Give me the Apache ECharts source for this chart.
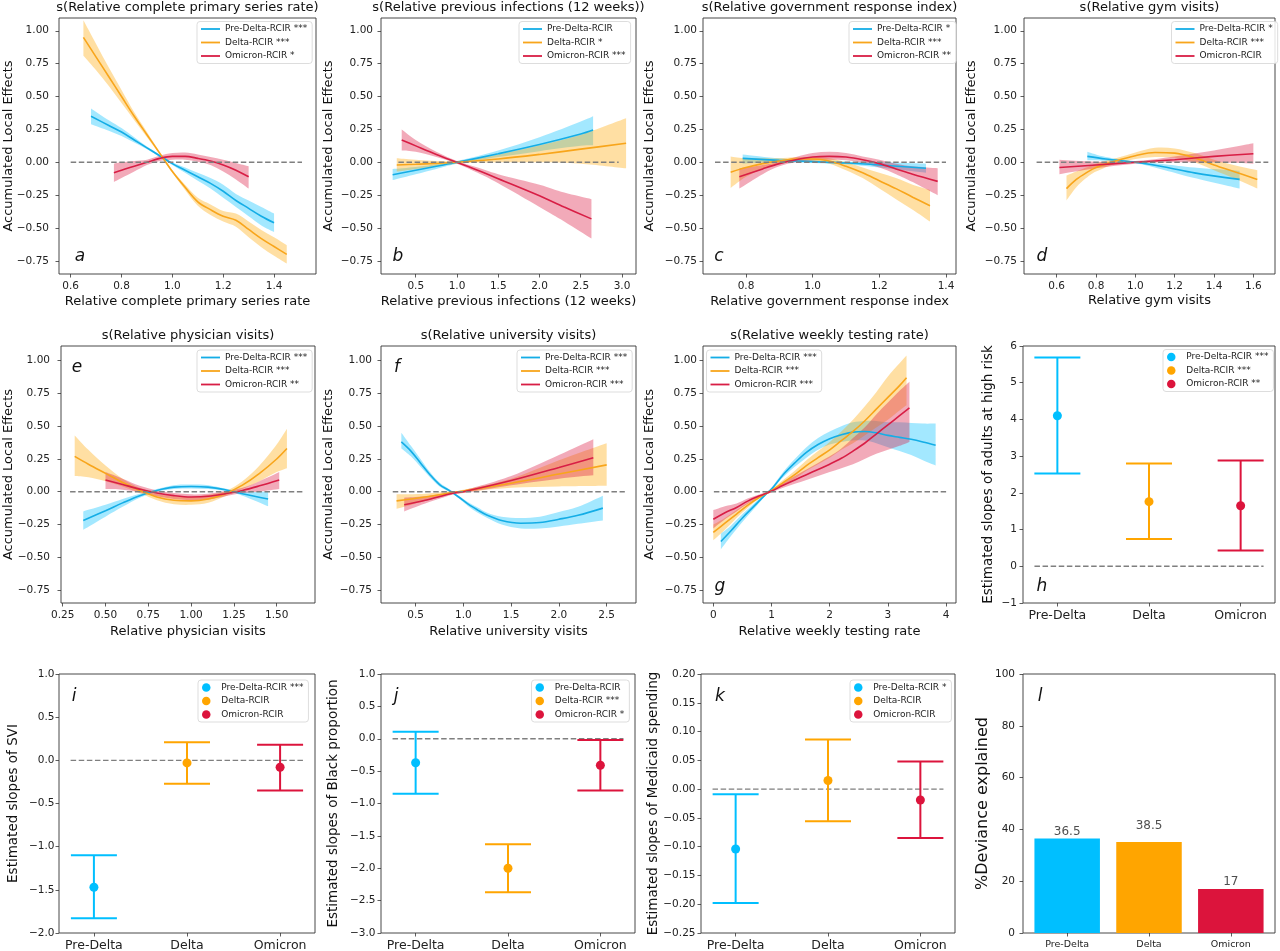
<!DOCTYPE html>
<html><head><meta charset="utf-8">
<script src="https://cdn.jsdelivr.net/npm/echarts@6/dist/echarts.min.js"></script>
<style>html,body{margin:0;padding:0;background:#fff}#c{width:1280px;height:951px}</style>
</head><body><div id="c"></div>
<script>
// ---------------- DATA ----------------
const CATS = ['Pre-Delta', 'Delta', 'Omicron'];
const ALE_Y_TICKS = [-0.75, -0.5, -0.25, 0, 0.25, 0.5, 0.75, 1.0];
const A_X_TICKS = [0.6, 0.8, 1.0, 1.2, 1.4];
const B_X_TICKS = [0.5, 1.0, 1.5, 2.0, 2.5, 3.0];
const C_X_TICKS = [0.8, 1.0, 1.2, 1.4];
const D_X_TICKS = [0.6, 0.8, 1.0, 1.2, 1.4, 1.6];
const E_X_TICKS = [0.25, 0.5, 0.75, 1.0, 1.25, 1.5];
const F_X_TICKS = [0.5, 1.0, 1.5, 2.0, 2.5];
const G_X_TICKS = [0, 1, 2, 3, 4];
const H_Y_TICKS = [-1, 0, 1, 2, 3, 4, 5, 6];
const I_Y_TICKS = [-2.0, -1.5, -1.0, -0.5, 0, 0.5, 1.0];
const J_Y_TICKS = [-3.0, -2.5, -2.0, -1.5, -1.0, -0.5, 0, 0.5, 1.0];
const K_Y_TICKS = [-0.25, -0.2, -0.15, -0.1, -0.05, 0, 0.05, 0.1, 0.15, 0.2];
const L_Y_TICKS = [0, 20, 40, 60, 80, 100];
const CAT_TICKS = [0, 1, 2];

// panel a
const a_pre_x = [0.68,0.75,0.8,0.85,0.9,0.95,1.0,1.05,1.1,1.15,1.2,1.25,1.3,1.35,1.4];
const a_pre_y = [0.35,0.28,0.23,0.17,0.11,0.05,-0.01,-0.06,-0.11,-0.16,-0.22,-0.29,-0.35,-0.41,-0.46];
const a_pre_lo = [0.29,0.24,0.20,0.15,0.10,0.04,-0.02,-0.08,-0.14,-0.20,-0.27,-0.34,-0.41,-0.48,-0.53];
const a_pre_hi = [0.41,0.32,0.26,0.19,0.12,0.06,0.0,-0.04,-0.08,-0.12,-0.17,-0.24,-0.29,-0.34,-0.39];
const a_del_x = [0.65,0.7,0.75,0.8,0.85,0.9,0.95,1.0,1.05,1.1,1.15,1.2,1.25,1.3,1.35,1.4,1.45];
const a_del_y = [0.95,0.80,0.65,0.50,0.35,0.21,0.07,-0.07,-0.19,-0.30,-0.36,-0.41,-0.44,-0.51,-0.58,-0.64,-0.70];
const a_del_lo = [0.81,0.70,0.58,0.45,0.32,0.19,0.06,-0.08,-0.21,-0.33,-0.40,-0.45,-0.49,-0.57,-0.645,-0.71,-0.77];
const a_del_hi = [1.08,0.90,0.72,0.55,0.38,0.23,0.08,-0.06,-0.17,-0.27,-0.32,-0.37,-0.39,-0.45,-0.515,-0.57,-0.63];
const a_omi_x = [0.77,0.8,0.85,0.9,0.95,1.0,1.05,1.1,1.15,1.2,1.25,1.3];
const a_omi_y = [-0.08,-0.06,-0.03,0.0,0.03,0.045,0.045,0.03,0.01,-0.02,-0.06,-0.11];
const a_omi_lo = [-0.15,-0.12,-0.07,-0.02,0.01,0.02,0.02,0.005,-0.02,-0.07,-0.13,-0.20];
const a_omi_hi = [-0.01,0.0,0.01,0.02,0.05,0.07,0.075,0.06,0.04,0.02,-0.005,-0.03];
const a_zero = [0.6, 1.51];

// panel b
const b_pre_x = [0.22,0.5,0.75,1.0,1.5,2.0,2.5,2.65];
const b_pre_y = [-0.095,-0.06,-0.03,0.0,0.065,0.135,0.215,0.245];
const b_pre_lo = [-0.135,-0.09,-0.05,-0.01,0.04,0.085,0.125,0.13];
const b_pre_hi = [-0.05,-0.035,-0.015,0.01,0.09,0.19,0.31,0.35];
const b_del_x = [0.27,0.5,1.0,1.5,2.0,2.5,3.05];
const b_del_y = [-0.02,-0.015,0.0,0.025,0.06,0.10,0.145];
const b_del_lo = [-0.07,-0.05,-0.01,0.0,0.0,-0.01,-0.045];
const b_del_hi = [0.03,0.02,0.01,0.06,0.13,0.21,0.335];
const b_omi_x = [0.33,0.5,0.75,1.0,1.25,1.5,2.0,2.3,2.63];
const b_omi_y = [0.17,0.125,0.06,0.0,-0.06,-0.125,-0.255,-0.34,-0.43];
const b_omi_lo = [0.09,0.08,0.04,-0.01,-0.08,-0.16,-0.34,-0.45,-0.58];
const b_omi_hi = [0.25,0.17,0.08,0.01,-0.04,-0.09,-0.17,-0.23,-0.28];
const b_zero = [0.29, 2.96];

// panel c
const c_pre_x = [0.79,0.9,1.0,1.1,1.2,1.34];
const c_pre_y = [0.03,0.015,0.005,-0.005,-0.02,-0.045];
const c_pre_lo = [-0.01,0.0,-0.005,-0.015,-0.04,-0.08];
const c_pre_hi = [0.06,0.03,0.015,0.005,0.0,-0.01];
const c_del_x = [0.754,0.8,0.85,0.9,0.95,1.0,1.05,1.1,1.15,1.2,1.25,1.3,1.352];
const c_del_y = [-0.075,-0.04,-0.01,0.01,0.025,0.025,0.01,-0.03,-0.08,-0.14,-0.2,-0.265,-0.33];
const c_del_lo = [-0.195,-0.11,-0.05,-0.01,0.01,0.01,-0.01,-0.06,-0.12,-0.2,-0.28,-0.36,-0.45];
const c_del_hi = [0.045,0.03,0.03,0.03,0.04,0.04,0.03,0.0,-0.04,-0.08,-0.12,-0.17,-0.21];
const c_omi_x = [0.78,0.85,0.9,0.95,1.0,1.05,1.1,1.15,1.2,1.25,1.3,1.375];
const c_omi_y = [-0.11,-0.05,-0.01,0.02,0.04,0.045,0.04,0.02,-0.01,-0.05,-0.09,-0.145];
const c_omi_lo = [-0.2,-0.09,-0.03,0.0,0.015,0.02,0.015,-0.005,-0.04,-0.09,-0.15,-0.25];
const c_omi_hi = [-0.045,-0.02,0.005,0.04,0.07,0.08,0.07,0.045,0.02,-0.01,-0.03,-0.045];
const c_zero = [0.707, 1.40];

// panel d
const d_pre_x = [0.756,0.85,1.0,1.15,1.3,1.53];
const d_pre_y = [0.045,0.025,0.0,-0.035,-0.08,-0.13];
const d_pre_lo = [0.015,0.01,-0.008,-0.06,-0.12,-0.2];
const d_pre_hi = [0.08,0.04,0.008,-0.015,-0.04,-0.065];
const d_del_x = [0.65,0.7,0.75,0.8,0.9,1.0,1.1,1.2,1.3,1.4,1.5,1.62];
const d_del_y = [-0.2,-0.13,-0.08,-0.04,0.01,0.05,0.075,0.07,0.035,-0.02,-0.07,-0.13];
const d_del_lo = [-0.29,-0.19,-0.12,-0.07,-0.01,0.025,0.04,0.035,0.0,-0.06,-0.12,-0.2];
const d_del_hi = [-0.1,-0.07,-0.04,-0.01,0.03,0.075,0.11,0.105,0.07,0.02,-0.02,-0.06];
const d_omi_x = [0.614,0.8,1.0,1.2,1.4,1.6];
const d_omi_y = [-0.04,-0.02,0.0,0.02,0.045,0.065];
const d_omi_lo = [-0.09,-0.045,-0.01,0.0,0.0,-0.01];
const d_omi_hi = [0.02,0.005,0.01,0.045,0.09,0.145];
const d_zero = [0.498, 1.676];

// panel e
const e_pre_x = [0.37,0.5,0.6,0.7,0.8,0.9,1.0,1.1,1.2,1.3,1.45];
const e_pre_y = [-0.22,-0.145,-0.085,-0.03,0.01,0.035,0.04,0.035,0.015,-0.015,-0.055];
const e_pre_lo = [-0.29,-0.19,-0.115,-0.045,0.0,0.02,0.025,0.02,0.005,-0.03,-0.11];
const e_pre_hi = [-0.15,-0.1,-0.055,-0.015,0.02,0.05,0.055,0.05,0.025,0.0,0.0];
const e_del_x = [0.32,0.4,0.5,0.6,0.7,0.8,0.9,1.0,1.1,1.2,1.3,1.4,1.5,1.56];
const e_del_y = [0.27,0.21,0.14,0.07,0.01,-0.04,-0.065,-0.07,-0.055,-0.015,0.05,0.14,0.25,0.33];
const e_del_lo = [0.12,0.11,0.08,0.04,-0.01,-0.065,-0.095,-0.1,-0.085,-0.035,0.02,0.08,0.15,0.18];
const e_del_hi = [0.43,0.32,0.2,0.1,0.03,-0.015,-0.035,-0.04,-0.025,0.005,0.08,0.2,0.36,0.48];
const e_omi_x = [0.5,0.6,0.7,0.8,0.9,1.0,1.1,1.2,1.3,1.4,1.515];
const e_omi_y = [0.09,0.055,0.02,-0.01,-0.03,-0.04,-0.035,-0.015,0.01,0.045,0.09];
const e_omi_lo = [0.02,0.015,-0.005,-0.035,-0.055,-0.065,-0.06,-0.035,-0.01,0.0,0.02];
const e_omi_hi = [0.15,0.1,0.045,0.01,-0.01,-0.02,-0.015,0.005,0.03,0.08,0.15];
const e_zero = [0.293, 1.656];

// panel f
const f_pre_x = [0.35,0.45,0.55,0.65,0.75,0.85,0.95,1.05,1.15,1.25,1.4,1.6,1.8,2.0,2.2,2.46];
const f_pre_y = [0.38,0.31,0.22,0.13,0.055,0.01,-0.04,-0.095,-0.14,-0.18,-0.22,-0.24,-0.235,-0.21,-0.18,-0.125];
const f_pre_lo = [0.33,0.27,0.19,0.11,0.04,0.0,-0.05,-0.11,-0.16,-0.2,-0.25,-0.28,-0.28,-0.265,-0.245,-0.22];
const f_pre_hi = [0.45,0.35,0.25,0.15,0.07,0.02,-0.03,-0.08,-0.12,-0.16,-0.19,-0.2,-0.19,-0.155,-0.115,-0.03];
const f_del_x = [0.3,0.6,0.9,1.0,1.5,2.0,2.5];
const f_del_y = [-0.07,-0.04,-0.005,0.005,0.065,0.135,0.205];
const f_del_lo = [-0.13,-0.07,-0.015,-0.005,0.03,0.04,0.045];
const f_del_hi = [-0.02,-0.015,0.005,0.015,0.1,0.24,0.37];
const f_omi_x = [0.38,0.6,0.9,1.0,1.5,2.0,2.36];
const f_omi_y = [-0.1,-0.065,-0.01,0.0,0.085,0.185,0.26];
const f_omi_lo = [-0.15,-0.09,-0.02,-0.01,0.05,0.1,0.125];
const f_omi_hi = [-0.045,-0.035,0.0,0.01,0.12,0.28,0.4];
const f_zero = [0.26, 2.69];

// panel g
const g_pre_x = [0.13,0.3,0.5,0.7,0.9,1.0,1.2,1.4,1.6,1.8,2.0,2.2,2.4,2.6,2.8,3.0,3.2,3.4,3.6,3.82];
const g_pre_y = [-0.38,-0.3,-0.2,-0.11,-0.02,0.02,0.13,0.22,0.3,0.36,0.405,0.435,0.455,0.46,0.45,0.43,0.415,0.4,0.38,0.355];
const g_pre_lo = [-0.44,-0.34,-0.23,-0.13,-0.03,0.01,0.11,0.19,0.26,0.32,0.36,0.38,0.39,0.39,0.37,0.34,0.31,0.28,0.24,0.2];
const g_pre_hi = [-0.32,-0.26,-0.17,-0.09,-0.01,0.03,0.15,0.25,0.34,0.41,0.46,0.5,0.53,0.54,0.54,0.53,0.53,0.525,0.52,0.52];
const g_del_x = [0.0,0.2,0.4,0.6,0.8,1.0,1.2,1.4,1.6,1.8,2.0,2.2,2.4,2.6,2.8,3.0,3.2,3.32];
const g_del_y = [-0.31,-0.24,-0.17,-0.1,-0.04,0.01,0.07,0.13,0.2,0.26,0.32,0.39,0.46,0.54,0.63,0.72,0.81,0.87];
const g_del_lo = [-0.37,-0.29,-0.2,-0.12,-0.05,0.0,0.05,0.1,0.16,0.21,0.26,0.32,0.37,0.43,0.49,0.55,0.62,0.66];
const g_del_hi = [-0.25,-0.2,-0.14,-0.08,-0.03,0.02,0.09,0.16,0.24,0.31,0.38,0.46,0.55,0.65,0.76,0.88,0.98,1.04];
const g_omi_x = [0.0,0.2,0.4,0.6,0.8,1.0,1.2,1.4,1.6,1.8,2.0,2.2,2.4,2.6,2.8,3.0,3.2,3.37];
const g_omi_y = [-0.21,-0.16,-0.12,-0.07,-0.03,0.005,0.05,0.09,0.13,0.17,0.21,0.255,0.31,0.37,0.44,0.51,0.58,0.64];
const g_omi_lo = [-0.28,-0.21,-0.15,-0.09,-0.04,-0.005,0.03,0.06,0.09,0.12,0.15,0.18,0.21,0.25,0.29,0.32,0.35,0.38];
const g_omi_hi = [-0.14,-0.11,-0.09,-0.05,-0.02,0.015,0.07,0.12,0.17,0.22,0.27,0.33,0.41,0.49,0.59,0.68,0.77,0.84];
const g_zero = [0.01, 4.0];

// panels h-k: slope estimates (point, lower, upper) for Pre-Delta, Delta, Omicron
const h_est = [4.10, 1.76, 1.65];
const h_lo = [2.53, 0.74, 0.43];
const h_hi = [5.69, 2.80, 2.88];
const i_est = [-1.47, -0.03, -0.08];
const i_lo = [-1.83, -0.27, -0.35];
const i_hi = [-1.10, 0.21, 0.18];
const j_est = [-0.37, -2.00, -0.41];
const j_lo = [-0.85, -2.37, -0.80];
const j_hi = [0.11, -1.63, -0.02];
const k_est = [-0.104, 0.015, -0.019];
const k_lo = [-0.198, -0.056, -0.085];
const k_hi = [-0.009, 0.086, 0.048];
const slope_zero = [-0.25, 2.25];

// panel l
const l_bar = [36.5, 35.1, 17.0];
const l_text = ['36.5', '38.5', '17'];
const l_text_at = [36.5, 38.5, 17.0];

// ---------------- STYLE / LAYOUT ----------------
const COL = ['#00BFFF', '#FFA500', '#DC143C'];
const LINECOL = ['#14ADE6', '#F8A51B', '#D81E45'];
const FF = '"DejaVu Sans", Verdana, sans-serif';
function rgba(hex, a) {
  const n = parseInt(hex.slice(1), 16);
  return 'rgba(' + (n >> 16 & 255) + ',' + (n >> 8 & 255) + ',' + (n & 255) + ',' + a + ')';
}
const fmt = d => v => (v < -1e-9 ? '\u2212' : '') + Math.abs(v).toFixed(d);
const catFmt = v => CATS[Math.round(v)];

const ALE_PANELS = [
  {L:'a', g:[59,18,257,256], xr:[0.554,1.565], yr:[-0.849,1.097], xt:A_X_TICKS, xd:1, ym:10, xg:21, yg:43.5,
   xname:'Relative complete primary series rate', title:'s(Relative complete primary series rate)', ty:7.5,
   letter:[80,257], leg:[197,21.5], names:['Pre-Delta-RCIR ***','Delta-RCIR ***','Omicron-RCIR *'],
   S:[[a_pre_x,a_pre_y,a_pre_lo,a_pre_hi],[a_del_x,a_del_y,a_del_lo,a_del_hi],[a_omi_x,a_omi_y,a_omi_lo,a_omi_hi]], z:a_zero},
  {L:'b', g:[381,18,255,256], xr:[0.079,3.17], yr:[-0.849,1.097], xt:B_X_TICKS, xd:1, ym:8, xg:21, yg:46,
   xname:'Relative previous infections (12 weeks)', title:'s(Relative previous infections (12 weeks))', ty:7.5,
   letter:[398,257], leg:[519,21.5], names:['Pre-Delta-RCIR','Delta-RCIR *','Omicron-RCIR ***'],
   S:[[b_pre_x,b_pre_y,b_pre_lo,b_pre_hi],[b_del_x,b_del_y,b_del_lo,b_del_hi],[b_omi_x,b_omi_y,b_omi_lo,b_omi_hi]], z:b_zero},
  {L:'c', g:[703,18,253,256], xr:[0.671,1.43], yr:[-0.849,1.097], xt:C_X_TICKS, xd:1, ym:6, xg:21, yg:47,
   xname:'Relative government response index', title:'s(Relative government response index)', ty:7.5,
   letter:[719,257], leg:[849,21.5], names:['Pre-Delta-RCIR *','Delta-RCIR ***','Omicron-RCIR **'],
   S:[[c_pre_x,c_pre_y,c_pre_lo,c_pre_hi],[c_del_x,c_del_y,c_del_lo,c_del_hi],[c_omi_x,c_omi_y,c_omi_lo,c_omi_hi]], z:c_zero},
  {L:'d', g:[1024,18,251,256], xr:[0.434,1.71], yr:[-0.849,1.097], xt:D_X_TICKS, xd:1, ym:7, xg:20, yg:46,
   xname:'Relative gym visits', title:'s(Relative gym visits)', ty:7.5,
   letter:[1042,257], leg:[1171.5,21.5], names:['Pre-Delta-RCIR *','Delta-RCIR ***','Omicron-RCIR'],
   S:[[d_pre_x,d_pre_y,d_pre_lo,d_pre_hi],[d_del_x,d_del_y,d_del_lo,d_del_hi],[d_omi_x,d_omi_y,d_omi_lo,d_omi_hi]], z:d_zero},
  {L:'e', g:[61,346,254,257], xr:[0.24,1.724], yr:[-0.849,1.112], xt:E_X_TICKS, xd:2, ym:11, xg:22.5, yg:46,
   xname:'Relative physician visits', title:'s(Relative physician visits)', ty:335.7,
   letter:[77,368], leg:[197,350], names:['Pre-Delta-RCIR ***','Delta-RCIR ***','Omicron-RCIR **'],
   S:[[e_pre_x,e_pre_y,e_pre_lo,e_pre_hi],[e_del_x,e_del_y,e_del_lo,e_del_hi],[e_omi_x,e_omi_y,e_omi_lo,e_omi_hi]], z:e_zero},
  {L:'f', g:[381,346,255,257], xr:[0.137,2.807], yr:[-0.849,1.112], xt:F_X_TICKS, xd:1, ym:9, xg:22.5, yg:46,
   xname:'Relative university visits', title:'s(Relative university visits)', ty:335.7,
   letter:[397,368], leg:[517,350], names:['Pre-Delta-RCIR ***','Delta-RCIR ***','Omicron-RCIR ***'],
   S:[[f_pre_x,f_pre_y,f_pre_lo,f_pre_hi],[f_del_x,f_del_y,f_del_lo,f_del_hi],[f_omi_x,f_omi_y,f_omi_lo,f_omi_hi]], z:f_zero},
  {L:'g', g:[703,346,253,257], xr:[-0.177,4.17], yr:[-0.849,1.112], xt:G_X_TICKS, xd:0, ym:6, xg:22.5, yg:47,
   xname:'Relative weekly testing rate', title:'s(Relative weekly testing rate)', ty:335.7,
   letter:[720,587], leg:[706.5,350], names:['Pre-Delta-RCIR ***','Delta-RCIR ***','Omicron-RCIR ***'],
   S:[[g_pre_x,g_pre_y,g_pre_lo,g_pre_hi],[g_del_x,g_del_y,g_del_lo,g_del_hi],[g_omi_x,g_omi_y,g_omi_lo,g_omi_hi]], z:g_zero}
];
const SLOPE_PANELS = [
  {L:'h', g:[1023,346,252,257], yr:[-1,6], yt:H_Y_TICKS, yd:0, ym:6, yg:28, yname:'Estimated slopes of adults at high risk',
   letter:[1042,587], leg:[1163,349.5], names:['Pre-Delta-RCIR ***','Delta-RCIR ***','Omicron-RCIR **'], est:h_est, lo:h_lo, hi:h_hi},
  {L:'i', g:[59,674,256,259], yr:[-2,1], yt:I_Y_TICKS, yd:1, ym:4.5, yg:39, yname:'Estimated slopes of SVI',
   letter:[74,697], leg:[198,680], names:['Pre-Delta-RCIR ***','Delta-RCIR','Omicron-RCIR'], est:i_est, lo:i_lo, hi:i_hi},
  {L:'j', g:[381,674,254,259], yr:[-3,1], yt:J_Y_TICKS, yd:1, ym:5.5, yg:41, yname:'Estimated slopes of Black proportion',
   letter:[396,697], leg:[531.5,680], names:['Pre-Delta-RCIR','Delta-RCIR ***','Omicron-RCIR *'], est:j_est, lo:j_lo, hi:j_hi},
  {L:'k', g:[701,674,254,259], yr:[-0.25,0.2], yt:K_Y_TICKS, yd:2, ym:5.5, yg:41, yname:'Estimated slopes of Medicaid spending',
   letter:[720,697], leg:[850,680], names:['Pre-Delta-RCIR *','Delta-RCIR','Omicron-RCIR'], est:k_est, lo:k_lo, hi:k_hi}
];

// ---------------- BUILD ----------------
const grid = [], xAxis = [], yAxis = [], series = [], legend = [], graphic = [];

function makeAxis(gi, r, ticks, formatter, o) {
  return {
    gridIndex: gi, type: 'value', min: r[0], max: r[1],
    axisLine: {show: false, onZero: false},
    splitLine: {show: false}, splitArea: {show: false},
    axisTick: {show: true, inside: false, length: 3.5, customValues: ticks, lineStyle: {color: '#333', width: 0.8}},
    axisLabel: {show: true, customValues: ticks, formatter: formatter, fontSize: o.fs, color: '#222',
      margin: o.m, fontFamily: FF, hideOverlap: false},
    name: o.name || '', nameLocation: 'middle', nameGap: o.ng || 0, nameMoveOverlap: false,
    nameTextStyle: {fontSize: o.nfs || 13, color: '#111', fontFamily: FF},
    axisPointer: {show: false}
  };
}
function addGrid(g) {
  grid.push({left: g[0], top: g[1], width: g[2], height: g[3], show: true, borderColor: '#333', borderWidth: 0.9,
    backgroundColor: 'transparent', containLabel: false, outerBoundsMode: 'none'});
  return grid.length - 1;
}
function crSeg(p) {
  let s = '';
  for (let i = 0; i < p.length - 1; i++) {
    const p0 = p[Math.max(i - 1, 0)], p1 = p[i], p2 = p[i + 1], p3 = p[Math.min(i + 2, p.length - 1)];
    const c1 = [p1[0] + (p2[0] - p0[0]) / 6, p1[1] + (p2[1] - p0[1]) / 6];
    const c2 = [p2[0] - (p3[0] - p1[0]) / 6, p2[1] - (p3[1] - p1[1]) / 6];
    s += ' C' + c1[0] + ' ' + c1[1] + ' ' + c2[0] + ' ' + c2[1] + ' ' + p2[0] + ' ' + p2[1];
  }
  return s;
}
function bandSeries(gi, xs, lo, hi, color) {
  return {
    type: 'custom', xAxisIndex: gi, yAxisIndex: gi, silent: true, z: 2,
    data: xs.map((x, i) => [x, lo[i], hi[i]]),
    renderItem: function (params, api) {
      if (params.dataIndexInside !== 0) return null;
      const up = xs.map((x, i) => api.coord([x, hi[i]]));
      const dn = xs.map((x, i) => api.coord([x, lo[i]])).reverse();
      const d = 'M' + up[0][0] + ' ' + up[0][1] + crSeg(up) + ' L' + dn[0][0] + ' ' + dn[0][1] + crSeg(dn) + ' Z';
      return {type: 'path', shape: {pathData: d}, style: {fill: rgba(color, 0.36), stroke: null}};
    }
  };
}
function zeroSeries(gi, ext) {
  return {type: 'line', xAxisIndex: gi, yAxisIndex: gi, data: [[ext[0], 0], [ext[1], 0]], symbol: 'none', silent: true, z: 4,
    lineStyle: {color: '#7f7f7f', width: 1.4, type: [5.5, 2.6]}};
}
function addLetter(L, pos) {
  graphic.push({type: 'text', x: pos[0], y: pos[1], silent: true, z: 50,
    style: {text: L, fontSize: 17, fontStyle: 'italic', fontFamily: FF, fill: '#111',
      align: 'center', verticalAlign: 'middle', textAlign: 'center', textVerticalAlign: 'middle'}});
}
function legendBase(pos) {
  return {
    orient: 'vertical', left: pos[0], top: pos[1], padding: [3, 5, 3, 4], itemGap: 4.5,
    backgroundColor: 'rgba(255,255,255,0.85)', borderColor: '#d4d4d4', borderWidth: 0.8, borderRadius: 3,
    selectedMode: false, textStyle: {fontSize: 9, color: '#222', fontFamily: FF}
  };
}

ALE_PANELS.forEach(p => {
  const gi = addGrid(p.g);
  xAxis.push(makeAxis(gi, p.xr, p.xt, fmt(p.xd), {fs: 10.5, m: 7, name: p.xname, ng: p.xg, nfs: 13}));
  yAxis.push(makeAxis(gi, p.yr, ALE_Y_TICKS, fmt(2), {fs: 10.5, m: p.ym, name: 'Accumulated Local Effects', ng: p.yg, nfs: 13}));
  p.S.forEach((s, k) => series.push(bandSeries(gi, s[0], s[2], s[3], COL[k])));
  p.S.forEach((s, k) => series.push({
    type: 'line', name: p.names[k], xAxisIndex: gi, yAxisIndex: gi, data: s[0].map((x, i) => [x, s[1][i]]),
    symbol: 'none', smooth: 0.35, silent: true, z: 3, color: LINECOL[k],
    lineStyle: {color: LINECOL[k], width: 1.6}, itemStyle: {color: LINECOL[k]}
  }));
  series.push(zeroSeries(gi, p.z));
  const lg = legendBase(p.leg);
  lg.itemWidth = 19; lg.itemHeight = 1.8; lg.icon = 'rect';
  lg.data = p.names.map((n, k) => ({name: n, icon: 'rect', itemStyle: {color: LINECOL[k], borderWidth: 0}}));
  legend.push(lg);
  graphic.push({type: 'text', x: p.g[0] + p.g[2] / 2, y: p.ty, silent: true,
    style: {text: p.title, fontSize: 13, fontFamily: FF, fill: '#111', align: 'center', verticalAlign: 'middle',
      textAlign: 'center', textVerticalAlign: 'middle'}});
  addLetter(p.L, p.letter);
});

SLOPE_PANELS.forEach(p => {
  const gi = addGrid(p.g);
  xAxis.push(makeAxis(gi, [-0.375, 2.375], CAT_TICKS, catFmt, {fs: 12.5, m: 6}));
  yAxis.push(makeAxis(gi, p.yr, p.yt, fmt(p.yd), {fs: 10.5, m: p.ym, name: p.yname, ng: p.yg, nfs: 13.5}));
  series.push(zeroSeries(gi, slope_zero));
  series.push({
    type: 'custom', xAxisIndex: gi, yAxisIndex: gi, silent: true, z: 5,
    data: CAT_TICKS.map((c, i) => [c, p.lo[i], p.hi[i]]),
    renderItem: function (params, api) {
      const x = api.value(0), a = api.coord([x, api.value(1)]), b = api.coord([x, api.value(2)]);
      const col = COL[params.dataIndex], w = 23, st = {stroke: col, lineWidth: 2};
      return {type: 'group', children: [
        {type: 'line', shape: {x1: a[0], y1: a[1], x2: b[0], y2: b[1]}, style: st},
        {type: 'line', shape: {x1: a[0] - w, y1: a[1], x2: a[0] + w, y2: a[1]}, style: st},
        {type: 'line', shape: {x1: b[0] - w, y1: b[1], x2: b[0] + w, y2: b[1]}, style: st}
      ]};
    }
  });
  p.names.forEach((n, k) => series.push({
    type: 'scatter', name: n, xAxisIndex: gi, yAxisIndex: gi, data: [[CAT_TICKS[k], p.est[k]]],
    symbol: 'circle', symbolSize: 9, silent: true, z: 6, itemStyle: {color: COL[k], opacity: 1}
  }));
  const lg = legendBase(p.leg);
  lg.itemWidth = 20; lg.itemHeight = 8.5; lg.icon = 'circle';
  lg.data = p.names.map((n, k) => ({name: n, icon: 'circle', itemStyle: {color: COL[k], borderWidth: 0}}));
  legend.push(lg);
  addLetter(p.L, p.letter);
});

// panel l
(function () {
  const gi = addGrid([1023, 674, 252, 259]);
  xAxis.push(makeAxis(gi, [-0.54, 2.54], CAT_TICKS, catFmt, {fs: 9.5, m: 7}));
  yAxis.push(makeAxis(gi, [0, 100], L_Y_TICKS, fmt(0), {fs: 10.5, m: 8, name: '%Deviance explained', ng: 32, nfs: 16}));
  series.push({
    type: 'bar', xAxisIndex: gi, yAxisIndex: gi, barWidth: 65.5, silent: true, z: 3,
    data: l_bar.map((v, i) => ({value: [CAT_TICKS[i], v], itemStyle: {color: COL[i]}}))
  });
  series.push({
    type: 'scatter', xAxisIndex: gi, yAxisIndex: gi, symbolSize: 0.01, silent: true, z: 6,
    data: l_text_at.map((v, i) => [CAT_TICKS[i], v]),
    label: {show: true, position: 'top', distance: 1, formatter: q => l_text[q.dataIndex],
      fontSize: 12, color: '#222', fontFamily: FF}
  });
  addLetter('l', [1040, 697]);
})();

const chart = echarts.init(document.getElementById('c'), null, {renderer: 'canvas'});
chart.setOption({
  animation: false, backgroundColor: '#fff',
  textStyle: {fontFamily: FF},
  grid: grid, xAxis: xAxis, yAxis: yAxis, series: series, legend: legend, graphic: graphic
});
</script></body></html>
